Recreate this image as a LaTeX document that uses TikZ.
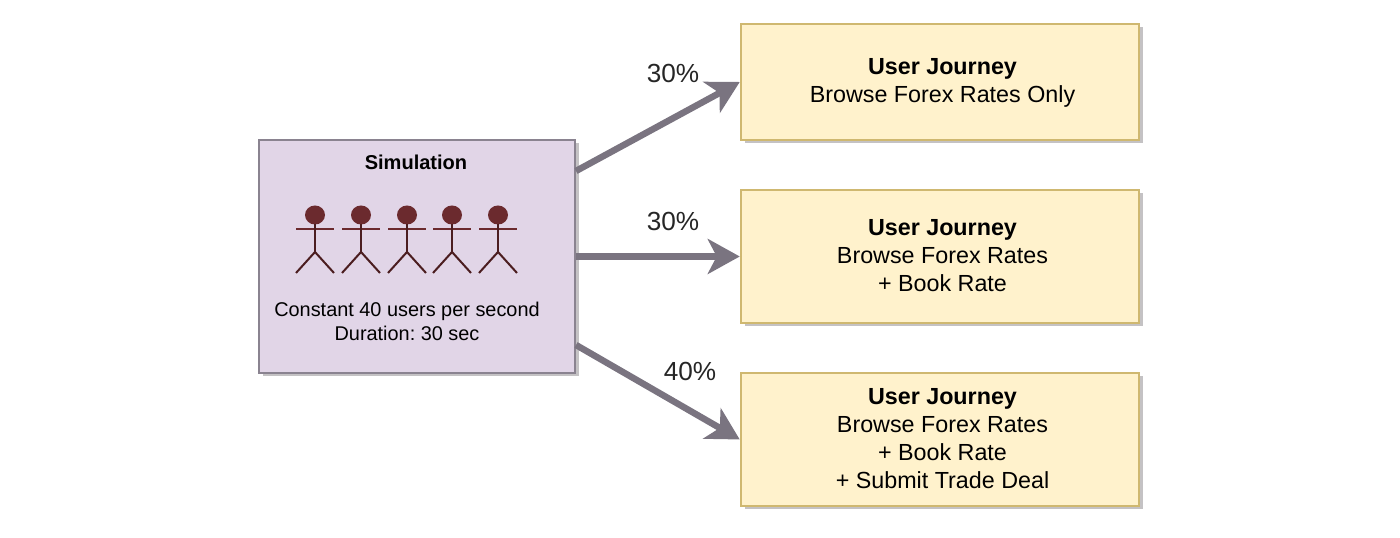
\documentclass[tikz,border=0pt]{standalone}
\usepackage{fontspec}
\setmainfont{Liberation Sans}
\frenchspacing
\usetikzlibrary{arrows.meta,shadows}
\definecolor{simfill}{HTML}{E1D5E7}
\definecolor{simline}{HTML}{8A8390}
\definecolor{jfill}{HTML}{FFF2CC}
\definecolor{jline}{HTML}{CFB870}
\definecolor{flowc}{HTML}{7A7480}
\definecolor{actorc}{HTML}{6B2A2E}
\definecolor{shadowc}{HTML}{C4C2C4}
\tikzset{
txt/.style={font=\fontsize{6.63}{7.97}\selectfont,align=center,text=black,inner sep=0pt},
hardshadow/.style={general shadow={fill=shadowc,shadow xshift=0.035cm,shadow yshift=-0.035cm}},
simbox/.style={draw=simline,fill=simfill,line width=0.2mm,hardshadow,minimum width=3.16cm,minimum height=2.33cm,inner sep=0pt},
journey/.style={draw=jline,fill=jfill,line width=0.25mm,hardshadow,minimum width=3.98cm,inner sep=0pt},
flow/.style={draw=flowc,line width=0.65mm,-{Stealth[length=3.2mm,width=3.5mm,inset=0.9mm]}},
pct/.style={font=\fontsize{7.45}{10}\selectfont,text=black!85,inner sep=0pt},
}
\begin{document}
\begin{tikzpicture}
\useasboundingbox (0cm,0cm) rectangle (14cm,5.38cm);
\node[simbox] (sim) at (4.17cm,2.815cm) {};
\node[txt,font=\fontsize{5.7}{9}\selectfont\bfseries] (simtitle) at (4.16cm,3.76cm) {Simulation};
\node[txt,font=\fontsize{5.66}{6.9}\selectfont] (simtext) at (4.07cm,2.165cm) {Constant 40 users per second\\Duration: 30 sec};
% actors
\foreach \x in {3.15,3.61,4.07,4.52,4.98}{
\fill[actorc] (\x cm,3.23cm) ellipse (0.1cm and 0.095cm);
\draw[actorc,line width=0.2mm] (\x cm-0.19cm,3.09cm) -- (\x cm+0.19cm,3.09cm);
\draw[actorc!70!black,line width=0.2mm] (\x cm,3.14cm) -- (\x cm,2.86cm);
\draw[actorc!70!black,line width=0.2mm] (\x cm-0.19cm,2.65cm) -- (\x cm,2.86cm) -- (\x cm+0.19cm,2.65cm);
}
\node[journey,minimum height=1.16cm] (j1) at (9.4cm,4.56cm) {};
\node[journey,minimum height=1.33cm] (j2) at (9.4cm,2.815cm) {};
\node[journey,minimum height=1.33cm] (j3) at (9.4cm,0.985cm) {};
\node[txt] (j1text) at (9.425cm,4.55cm) {\textbf{User Journey}\\Browse Forex Rates Only};
\node[txt] (j2text) at (9.425cm,2.825cm) {\textbf{User Journey}\\Browse Forex Rates\\+ Book Rate};
\node[txt] (j3text) at (9.425cm,0.995cm) {\textbf{User Journey}\\Browse Forex Rates\\+ Book Rate\\+ Submit Trade Deal};
\path (sim.east)++(0,0.855cm) coordinate (s1);
\path (sim.east)++(0,-0.885cm) coordinate (s3);
\draw[flow] (s1) -- (j1.west);
\draw[flow] (sim.east) -- (j2.west);
\draw[flow] (s3) -- (j3.west);
\node[pct] (p1) at (6.73cm,4.64cm) {30\%};
\node[pct] (p2) at (6.73cm,3.16cm) {30\%};
\node[pct] (p3) at (6.9cm,1.66cm) {40\%};
\end{tikzpicture}
\end{document}
